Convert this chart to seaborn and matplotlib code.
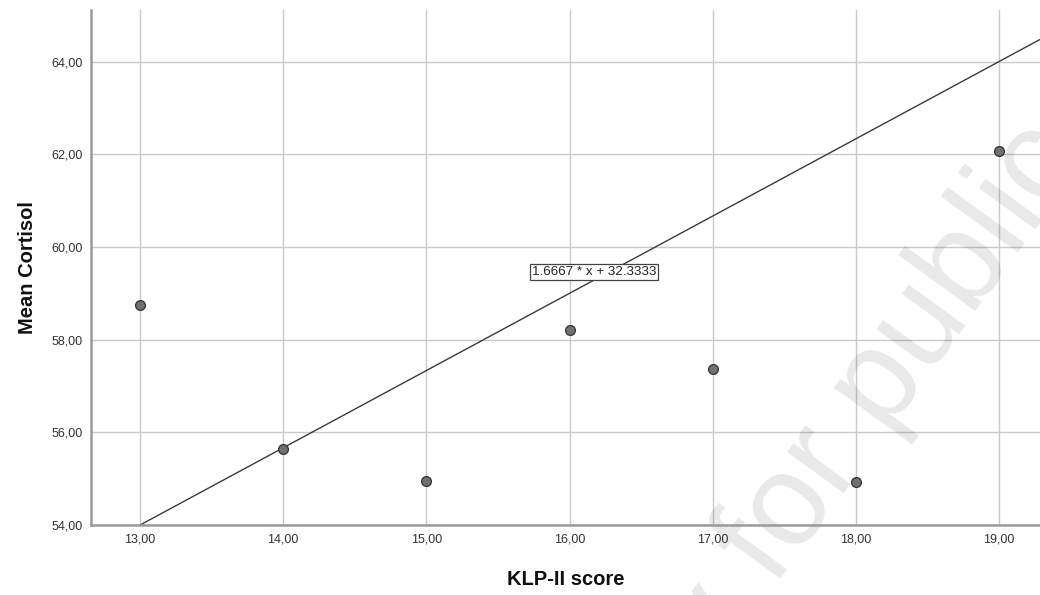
import matplotlib

matplotlib.use("Agg")
import matplotlib.pyplot as plt
import pandas as pd
import seaborn as sns

# ---- data ----
klp_scores = [13, 14, 15, 16, 17, 18, 19]
mean_cortisol = [58.75, 55.64, 54.95, 58.21, 57.37, 54.93, 62.07]
fit_slope = 1.6667
fit_intercept = 32.3333
x_ticks = [13, 14, 15, 16, 17, 18, 19]
y_ticks = [54, 56, 58, 60, 62, 64]

df = pd.DataFrame({"KLP-II score": klp_scores, "Mean Cortisol": mean_cortisol})

sns.set_theme(style="white")
plt.rcParams["font.family"] = ["Liberation Sans", "DejaVu Sans"]

fig = plt.figure(figsize=(10.4, 5.95), dpi=100)
ax = fig.add_axes([0.0875, 0.1176, 0.9125, 0.866])

ax.set_xlim(12.657, 19.287)
ax.set_ylim(54, 65.12)

# grid first so everything sits on top
ax.set_axisbelow(True)
ax.grid(True, color="#c9c9c9", linewidth=1.0)

# watermark, split at "for" so it can be pinned in place; sits under the marks
wm = dict(fontsize=94, color="black", alpha=0.09, rotation=54, rotation_mode="anchor",
          va="baseline", zorder=1.5, transform=fig.transFigure, clip_on=False)
ax.text(0.745, 0.0118, "for publication", ha="left", **wm)
ax.text(0.725, -0.037, "Copy", ha="right", **wm)

# fit line
ax.axline((0, fit_intercept), slope=fit_slope, color="#3a3a3a", linewidth=1.0, zorder=2)

sns.scatterplot(data=df, x="KLP-II score", y="Mean Cortisol", ax=ax, s=50,
                color="#707070", edgecolor="#333333", linewidth=0.9, zorder=3)

# equation label in the middle of the plot
ax.text(16.17, 59.46, f"{fit_slope:.4f} * x + {fit_intercept:.4f}", fontsize=9.6,
        color="#222222", ha="center", va="center", zorder=4,
        bbox=dict(boxstyle="square,pad=0.12", facecolor="white", edgecolor="#444444", linewidth=0.9))

ax.set_xticks(x_ticks)
ax.set_xticklabels([f"{v:.2f}".replace(".", ",") for v in x_ticks])
ax.set_yticks(y_ticks)
ax.set_yticklabels([f"{v:.2f}".replace(".", ",") for v in y_ticks])
ax.tick_params(axis="both", length=0, labelsize=9, labelcolor="#333333", pad=6)

ax.set_xlabel("KLP-II score", fontsize=14.5, fontweight="bold", color="#111111", labelpad=18)
ax.set_ylabel("Mean Cortisol", fontsize=14.5, fontweight="bold", color="#111111", labelpad=10)

for side in ["top", "right"]:
    ax.spines[side].set_visible(False)
for side in ["left", "bottom"]:
    ax.spines[side].set_color("#9a9a9a")
    ax.spines[side].set_linewidth(1.8)

fig.savefig("out.png", dpi=100)
plt.close(fig)
